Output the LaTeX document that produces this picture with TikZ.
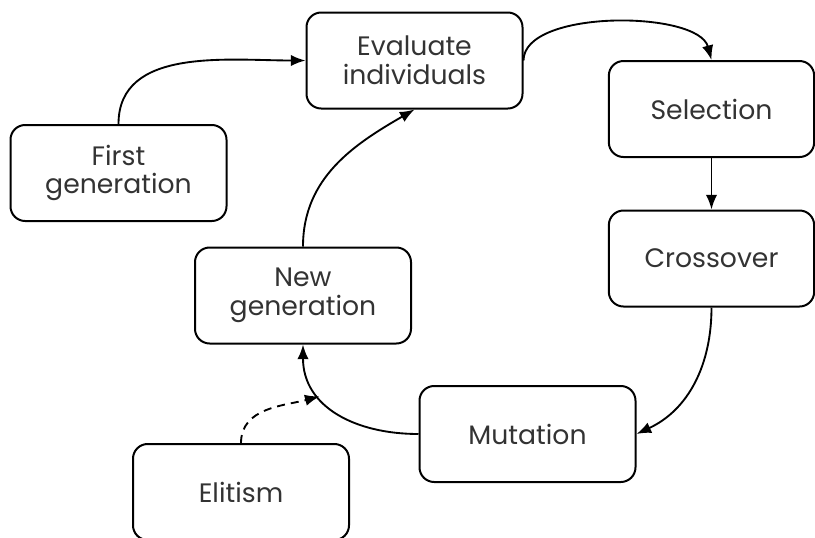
\documentclass[tikz,border=0pt]{standalone}
\usepackage{fontspec}
\setmainfont{Poppins}
\usetikzlibrary{arrows.meta}
\tikzset{
  stage/.style={draw=black, line width=1.5pt, rounded corners=11pt,
    minimum width=#1, minimum height=72pt, align=center,
    font=\fontsize{20}{21.5}\selectfont, text=black!80, inner sep=0pt},
  stage/.default=162pt,
  flow/.style={line width=1.4pt, arrows={-Latex[length=11pt,width=8.5pt]}},
  hint/.style={flow, dash pattern=on 6pt off 4.5pt}}
\begin{document}
\begin{tikzpicture}[x=0.75pt,y=0.75pt]
\clip (0,0) rectangle (815,-537);
\useasboundingbox (0,0) rectangle (815,-537);
% stages of the genetic algorithm
\node[stage] (eval) at (414.5,-60.5) {Evaluate\\individuals};
\node[stage=154pt] (sel) at (711.5,-109) {Selection};
\node[stage=154pt] (cro) at (711.5,-258.5) {Crossover};
\node[stage] (first) at (118.5,-173) {First\\generation};
\node[stage] (newg) at (303,-295.5) {New\\generation};
\node[stage] (mut) at (527.5,-434) {Mutation};
\node[stage] (elit) at (241,-492) {Elitism};
% main loop
\draw[flow] (first.north) to[out=90,in=180] (eval.west);
\draw[flow] (eval.east) to[out=90,in=105,looseness=0.7] (sel.north);
\draw[flow] (sel.south) -- (cro.north);
\draw[flow] (cro.south) to[out=-90,in=25] (mut.east);
\draw[flow] (mut.west) to[out=180,in=-90,looseness=1.1] coordinate[pos=0.66] (join) (newg.south);
\draw[flow] (newg.north) to[out=90,in=210] (eval.south);
% elitism feeds the new generation
\draw[hint] (elit.north) to[out=90,in=195] (join);
\end{tikzpicture}
\end{document}
